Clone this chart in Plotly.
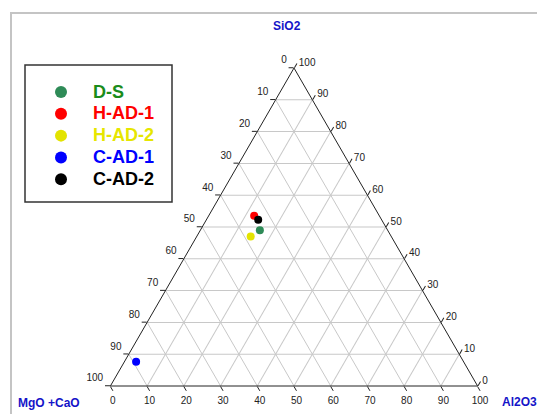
import plotly.graph_objects as go

# ---- data (wt %) ----
samples = ["D-S", "H-AD-1", "H-AD-2", "C-AD-1", "C-AD-2"]
sio2 = [49.0, 53.5, 47.0, 7.6, 52.3]
mgo_cao = [34.8, 34.1, 38.3, 89.2, 33.6]
al2o3 = [16.2, 12.4, 14.7, 3.2, 14.1]

marker_colors = ["#2e8b57", "#ff0000", "#e3e300", "#0000ff", "#000000"]
text_colors = ["#1a8c1a", "#ff0000", "#e6e600", "#0000ff", "#000000"]

tick_vals = [0, 10, 20, 30, 40, 50, 60, 70, 80, 90, 100]
tick_text = ["100", "90", "80", "70", "60", "50", "40", "30", "20", "10", "0"]

# ---- layout geometry (page pixels) ----
W, H = 537, 414
ML, MR, MT, MB = 110, 59, 68, 28
PW, PH = W - ML - MR, H - MT - MB


def px2x(px):
    return (px - ML) / PW


def px2y(py):
    return (H - MB - py) / PH


FONT = "Liberation Sans, Arial, sans-serif"

fig = go.Figure()
for name, a, b, c, mc, tc in zip(samples, sio2, mgo_cao, al2o3, marker_colors, text_colors):
    fig.add_trace(go.Scatterternary(
        a=[a], b=[b], c=[c], mode="markers",
        name=f'<b><span style="color:{tc};font-size:18px">{name}</span></b>',
        marker=dict(size=8, color=mc, line=dict(width=0)),
    ))

axis_common = dict(
    tickmode="array", tickvals=tick_vals, ticktext=tick_text,
    ticks="outside", ticklen=5, tickcolor="#222", tickwidth=1,
    tickfont=dict(size=10, color="#222", family=FONT),
    showgrid=True, gridcolor="#c8c8c8", gridwidth=1,
    showline=True, linecolor="#222", linewidth=1,
    title=dict(text=""),
)
# left-side labels sit a little above their grid lines in the reference
aaxis = dict(axis_common, ticktext=[t + "<br>\u00a0" for t in tick_text])

TITLE_FONT = dict(size=12, color="#1414c8", family=FONT)

fig.update_layout(
    width=W, height=H,
    margin=dict(l=ML, r=MR, t=MT, b=MB),
    paper_bgcolor="white",
    font=dict(family=FONT),
    ternary=dict(
        sum=100, bgcolor="white",
        aaxis=aaxis, baxis=axis_common, caxis=axis_common,
    ),
    showlegend=True,
    legend=dict(
        x=px2x(29), y=px2y(76), xanchor="left", yanchor="top",
        bgcolor="rgba(0,0,0,0)", borderwidth=0,
        font=dict(size=14.5, family=FONT),
        itemwidth=54, itemsizing="constant",
    ),
    shapes=[
        dict(type="rect", xref="paper", yref="paper",
             x0=px2x(11), x1=px2x(700), y0=px2y(600), y1=px2y(13),
             line=dict(color="#c4c4c4", width=2), fillcolor="rgba(0,0,0,0)", layer="below"),
        dict(type="rect", xref="paper", yref="paper",
             x0=px2x(25), x1=px2x(172), y0=px2y(202), y1=px2y(65),
             line=dict(color="#333", width=1.5), fillcolor="rgba(0,0,0,0)"),
    ],
    annotations=[
        dict(text="<b>SiO2</b>", x=px2x(287), y=px2y(26), xref="paper", yref="paper",
             showarrow=False, font=TITLE_FONT, xanchor="center", yanchor="middle"),
        dict(text="<b>MgO +CaO</b>", x=px2x(49), y=px2y(403), xref="paper", yref="paper",
             showarrow=False, font=TITLE_FONT, xanchor="center", yanchor="middle"),
        dict(text="<b>Al2O3</b>", x=px2x(500), y=px2y(402), xref="paper", yref="paper",
             showarrow=False, font=TITLE_FONT, xanchor="left", yanchor="middle"),
    ],
)

fig.write_html(
    "out.html",
    config={"displayModeBar": False},
    post_script="document.body.style.margin='0';document.body.style.overflow='hidden';",
)
